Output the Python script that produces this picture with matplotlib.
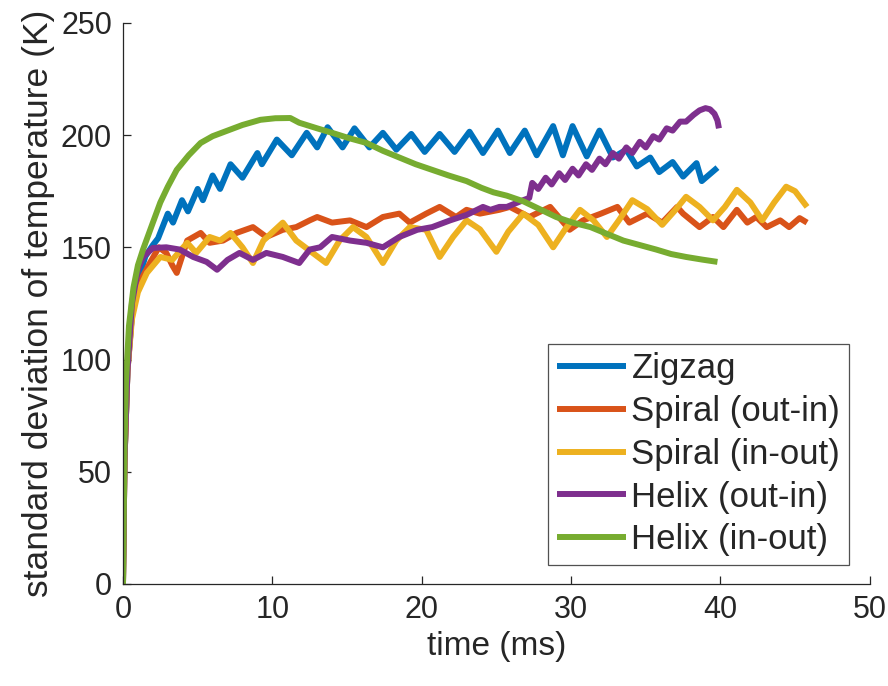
import matplotlib
matplotlib.use("Agg")
import matplotlib.pyplot as plt

plt.rcParams['font.family'] = ['Liberation Sans', 'DejaVu Sans']

labels = ['Zigzag', 'Spiral (out-in)', 'Spiral (in-out)', 'Helix (out-in)', 'Helix (in-out)']
colors = ['#0072BD', '#D95319', '#EDB120', '#7E2F8E', '#77AC30']

# Zigzag
zz_t = [0, 0.1, 0.3, 0.6, 1.0, 1.5, 2.0, 2.35, 3.0, 3.35, 3.95, 4.35, 5.0, 5.35, 6.0, 6.5,
        7.2, 8.0, 9.0, 9.3, 10.3, 11.3, 12.3, 13.0, 13.7, 14.7, 15.5, 16.5, 17.4, 18.3,
        19.3, 20.2, 21.2, 22.2, 23.2, 24.1, 25.1, 25.9, 26.9, 27.7, 28.8, 29.45, 30.1,
        31.05, 31.9, 32.8, 33.7, 34.4, 35.3, 35.9, 36.8, 37.5, 38.4, 38.75, 39.8]
zz_v = [0, 55, 95, 120, 135, 146, 151, 154, 165, 161, 171, 166, 176, 171, 182, 176,
        187, 181, 192, 187, 198, 191, 201, 194.5, 203.5, 194.5, 203, 194.5, 201, 193.5,
        200.5, 192.5, 200.5, 192.5, 201.5, 192, 202, 192, 202, 191, 204, 191, 204,
        190.5, 202, 190, 193.5, 186, 190, 183.5, 188, 181.5, 187.5, 179.5, 185.5]

# Spiral (out-in)
so_t = [0, 0.1, 0.3, 0.6, 1.0, 1.8, 2.4, 2.9, 3.3, 3.6, 4.3, 5.2, 5.8, 6.7, 7.6, 8.7,
        9.6, 10.7, 11.6, 12.5, 13.0, 14.0, 15.2, 16.3, 17.4, 18.5, 19.2, 20.3, 21.2,
        22.3, 23.0, 23.9, 25.2, 25.9, 27.2, 28.6, 29.9, 30.8, 32.0, 33.1, 33.9, 35.1,
        36.1, 37.1, 37.5, 38.6, 39.5, 40.2, 41.1, 41.8, 42.4, 43.1, 44.0, 44.6, 45.3, 45.8]
so_v = [0, 55, 95, 120, 133, 143, 150, 147.5, 142, 138.6, 153, 156.4, 152, 153, 156.4, 159,
        154.6, 157.8, 159, 162, 163.5, 161, 162, 159, 163.5, 165, 161, 165, 168,
        163.5, 166.7, 165, 166.7, 168, 163.5, 168, 157.8, 162, 165, 168, 161, 165,
        161, 168, 165, 159, 163.5, 159, 166.7, 161, 163.5, 159, 162, 159, 163, 161]

# Spiral (in-out)
si_t = [0, 0.1, 0.3, 0.6, 1.0, 1.6, 2.5, 3.3, 4.3, 4.9, 5.8, 6.5, 7.2, 8.0, 8.7, 9.4,
        10.7, 11.6, 12.7, 13.6, 14.5, 15.4, 16.3, 17.4, 18.3, 19.2, 20.3, 21.2, 22.1,
        23.0, 23.9, 25.0, 25.8, 26.8, 27.8, 28.8, 29.6, 30.6, 31.5, 32.4, 33.2, 34.1,
        35.1, 36.1, 36.9, 37.7, 38.6, 39.5, 40.3, 41.1, 42.0, 42.8, 43.6, 44.4, 45.0, 45.8]
si_v = [0, 55, 95, 118, 130, 138.6, 145.7, 144.4, 152, 147.5, 154.6, 153, 156.4, 150, 143, 153,
        161, 153, 147.5, 143, 153, 159, 154.6, 143, 153, 159, 157.8, 145.7, 154.6,
        162, 158, 148, 157, 165, 160, 150, 158, 166.7, 162, 154.6, 162, 171,
        167, 160, 166, 172.5, 168, 162, 168, 175.6, 170, 162, 170, 177, 175, 168]

# Helix (out-in)
ho_t = [0, 0.1, 0.3, 0.6, 1.0, 1.34, 2.0, 2.9, 3.8, 4.7, 5.6, 6.3, 7.0, 7.8, 8.7, 9.6,
        10.7, 11.8, 12.5, 13.2, 14.0, 15.2, 16.3, 17.4, 18.5, 19.7, 20.7, 21.9, 23.0,
        24.1, 24.6, 25.2, 25.7, 26.8, 27.2, 27.4, 27.8, 28.3, 28.7, 29.2, 29.6, 30.1,
        30.5, 31.0, 31.4, 31.9, 32.3, 32.8, 33.2, 33.7, 34.1, 34.6, 35.0, 35.5, 35.9,
        36.4, 36.8, 37.3, 37.7, 38.2, 38.6, 39.0, 39.3, 39.6, 39.8, 39.9]
ho_v = [0, 55, 95, 125, 140, 145.7, 149.7, 150, 149, 145.7, 143.5, 140, 144.4, 147.5, 144.4, 147.5,
        145.7, 143, 149, 150, 154.6, 153, 152, 150, 154.6, 157.8, 159, 162, 164.4,
        168, 166.7, 168, 168, 171, 172, 178.7, 176, 181, 178, 183, 180, 185,
        182, 187, 184.5, 189.5, 187, 192, 189.5, 194.5, 192, 197, 194.5, 199.5, 198,
        203, 202, 206, 206, 209, 211, 212, 211.5, 209.5, 206.5, 203]

# Helix (in-out)
hi_t = [0, 0.05, 0.1, 0.2, 0.4, 0.7, 1.0, 1.34, 2.0, 2.5, 3.0, 3.6, 4.4, 5.2, 6.0, 7.0,
        8.0, 9.2, 10.2, 11.2, 11.8, 13.0, 14.0, 15.2, 16.3, 17.4, 18.5, 19.6, 20.7,
        21.8, 23.0, 24.0, 24.8, 25.7, 26.8, 27.9, 29.0, 30.1, 31.3, 32.4, 33.5, 34.6,
        35.7, 36.7, 37.7, 38.8, 39.8]
hi_v = [0, 30, 60, 90, 115, 132, 142, 149, 161, 170, 177, 184.5, 191, 196.5, 199.5, 202,
        204.5, 206.8, 207.5, 207.6, 205.5, 203, 201, 198.5, 196.5, 193, 190, 187, 184.5,
        182, 179.5, 176.5, 174.5, 173, 170.5, 167, 163.5, 161, 159, 156, 153, 151,
        149, 147, 145.7, 144.5, 143.5]

series = [(zz_t, zz_v), (so_t, so_v), (si_t, si_v), (ho_t, ho_v), (hi_t, hi_v)]

fig = plt.figure(figsize=(8.88, 6.86), dpi=100)
ax = fig.add_axes([0.1385, 0.1487, 0.841, 0.818])

for (t, v), c, lab in zip(series, colors, labels):
    ax.plot(t, v, color=c, lw=4.3, label=lab, solid_joinstyle='round',
            solid_capstyle='butt')

ax.set_xlim(0, 50)
ax.set_ylim(0, 250)
ax.set_xticks([0, 10, 20, 30, 40, 50])
ax.set_yticks([0, 50, 100, 150, 200, 250])
for s in ['top', 'right']:
    ax.spines[s].set_visible(False)
for s in ['left', 'bottom']:
    ax.spines[s].set_color('#262626')
    ax.spines[s].set_linewidth(0.9)
ax.tick_params(direction='in', length=6, width=0.9, colors='#262626',
               labelsize=22, pad=8)
ax.set_xlabel('time (ms)', fontsize=24, color='#262626', labelpad=4)
ax.set_ylabel('standard deviation of temperature (K)', fontsize=25.5, color='#262626',
              labelpad=4)

leg = ax.legend(loc='lower right', bbox_to_anchor=(0.972, 0.034), borderaxespad=0,
                fontsize=25, frameon=True, fancybox=False, handlelength=2.0,
                handletextpad=0.15, labelspacing=0.28, borderpad=0.25)
leg.get_frame().set_edgecolor('#262626')
leg.get_frame().set_linewidth(0.9)
for txt in leg.get_texts():
    txt.set_color('#262626')

fig.savefig('out.png', dpi=100)
